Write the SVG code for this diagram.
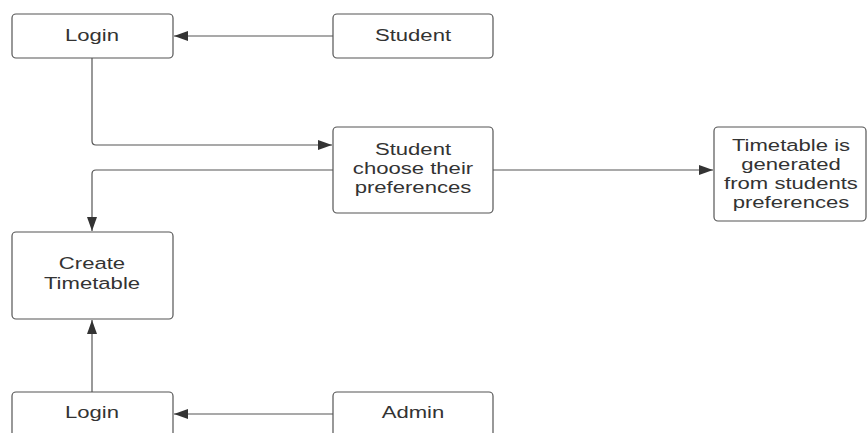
<svg xmlns="http://www.w3.org/2000/svg" width="867" height="433" viewBox="0 0 867 433">
<style>
.box{fill:#fff;stroke:#555;stroke-width:1.2}
.t{font-family:"Liberation Sans",Arial,sans-serif;font-size:17px;fill:#333;text-anchor:middle}
.c{fill:none;stroke:#555;stroke-width:1.2}
</style>
<defs>
<marker id="ah" viewBox="0 0 14 10" refX="14" refY="5" markerWidth="14" markerHeight="10" markerUnits="userSpaceOnUse" orient="auto">
<path d="M0,0 L14,5 L0,10 Z" fill="#333"/>
</marker>
</defs>
<rect width="867" height="433" fill="#fff"/>
<g id="connectors">
<path class="c" d="M333,36 H174" marker-end="url(#ah)"/>
<path class="c" d="M92,58 V141 Q92,145 96,145 H332" marker-end="url(#ah)"/>
<path class="c" d="M333,170 H96 Q92,170 92,174 V231" marker-end="url(#ah)"/>
<path class="c" d="M493,170 H713" marker-end="url(#ah)"/>
<path class="c" d="M92,392 V320" marker-end="url(#ah)"/>
<path class="c" d="M333,414 H174" marker-end="url(#ah)"/>
</g>
<g id="login1"><rect class="box" x="12" y="14" width="161" height="44" rx="4"/><text class="t" transform="translate(92,41) scale(1.3,1)">Login</text></g>
<g id="student"><rect class="box" x="333" y="14" width="160" height="44" rx="4"/><text class="t" transform="translate(413,41) scale(1.3,1)">Student</text></g>
<g id="choose"><rect class="box" x="333" y="127" width="160" height="86" rx="4"/><text class="t" transform="translate(413,155) scale(1.3,1)">Student</text><text class="t" transform="translate(413,174) scale(1.3,1)">choose their</text><text class="t" transform="translate(413,193) scale(1.3,1)">preferences</text></g>
<g id="generated"><rect class="box" x="714" y="127" width="152" height="94" rx="4"/><text class="t" transform="translate(791,151) scale(1.3,1)">Timetable is</text><text class="t" transform="translate(791,170) scale(1.3,1)">generated</text><text class="t" transform="translate(791,189) scale(1.3,1)">from students</text><text class="t" transform="translate(791,208) scale(1.3,1)">preferences</text></g>
<g id="create"><rect class="box" x="12" y="232" width="161" height="87" rx="4"/><text class="t" transform="translate(92,269) scale(1.3,1)">Create</text><text class="t" transform="translate(92,289) scale(1.3,1)">Timetable</text></g>
<g id="login2"><rect class="box" x="12" y="392" width="161" height="60" rx="4"/><text class="t" transform="translate(92,418) scale(1.3,1)">Login</text></g>
<g id="admin"><rect class="box" x="333" y="392" width="160" height="60" rx="4"/><text class="t" transform="translate(413,418) scale(1.3,1)">Admin</text></g>
</svg>
